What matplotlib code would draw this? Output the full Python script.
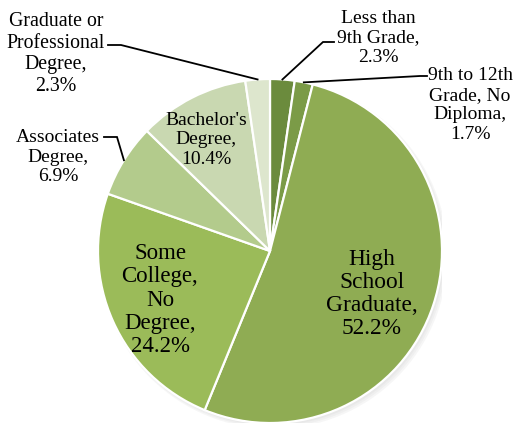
import numpy as np
import matplotlib
matplotlib.use("Agg")
import matplotlib.pyplot as plt
from matplotlib.patches import Circle

# Educational attainment shares (percent), clockwise from 12 o'clock
categories = [
    "Less than\n9th Grade",
    "9th to 12th\nGrade, No\nDiploma",
    "High\nSchool\nGraduate",
    "Some\nCollege,\nNo\nDegree",
    "Associates\nDegree",
    "Bachelor's\nDegree",
    "Graduate or\nProfessional\nDegree",
]
values = [2.3, 1.7, 52.2, 24.2, 6.9, 10.4, 2.3]
colors = ["#6b8b3d", "#7b9b47", "#8fac53", "#9bbb59", "#b3cb8c", "#c9d8b1", "#dde6cd"]

plt.rcParams["font.family"] = ["Liberation Serif", "DejaVu Serif"]

W, H = 516, 427
fig = plt.figure(figsize=(W / 100, H / 100), dpi=100)
cx, cy, R = 270, 252, 172
ax = fig.add_axes([(cx - R) / W, (H - cy - R) / H, 2 * R / W, 2 * R / H])
ax.set_xlim(-1, 1)
ax.set_ylim(-1, 1)
ax.set_aspect("equal")
ax.axis("off")

# soft drop shadow behind the pie
for i, a in enumerate([0.05, 0.05, 0.06]):
    ax.add_patch(Circle((0.012 + 0.004 * i, -0.014 - 0.004 * i), 1.0 + 0.006 * i,
                        color="#707070", alpha=a, zorder=0, lw=0))

wedges, _ = ax.pie(values, colors=colors, startangle=90, counterclock=False,
                   radius=1.0, center=(0, 0),
                   wedgeprops=dict(edgecolor="white", linewidth=1.6),
                   frame=False)
ax.set_xlim(-1, 1)
ax.set_ylim(-1, 1)


def px(x, y):
    """pixel position -> data coordinates"""
    return (x - cx) / R, (cy - y) / R


# label layout: text centre in px, font size, and leader elbow/end for outside labels
layout = [
    dict(pos=(378, 38), fs=14, elbow=(323, 43), end=(334, 43)),
    dict(pos=(470, 105), fs=14, elbow=(420, 77), end=(427, 77)),
    dict(pos=(372, 294), fs=16.8),
    dict(pos=(160, 300), fs=16.5),
    dict(pos=(58, 157), fs=14, elbow=(117, 138), end=(104, 138)),
    dict(pos=(206, 140), fs=14),
    dict(pos=(56, 54), fs=14.3, elbow=(121, 46), end=(108, 46)),
]

total = sum(values)
cum = np.cumsum([0] + values[:-1])
for cat, val, c0, lay in zip(categories, values, cum, layout):
    label = f"{cat},\n{val:.1f}%"
    fs = lay["fs"]
    ls = 1.14 if fs > 15 else 1.2
    x, y = px(*lay["pos"])
    ax.text(x, y, label, ha="center", va="center", fontsize=fs,
            linespacing=ls, color="black", clip_on=False, zorder=5)
    if "elbow" in lay:
        mid = (c0 + val / 2) / total * 2 * np.pi
        ex, ey = np.sin(mid), np.cos(mid)
        bx, by = px(*lay["elbow"])
        tx, ty = px(*lay["end"])
        ax.plot([ex, bx, tx], [ey, by, ty], color="black", lw=1.3,
                clip_on=False, zorder=4, solid_joinstyle="miter")

fig.savefig("out.png", dpi=100, facecolor="white")
